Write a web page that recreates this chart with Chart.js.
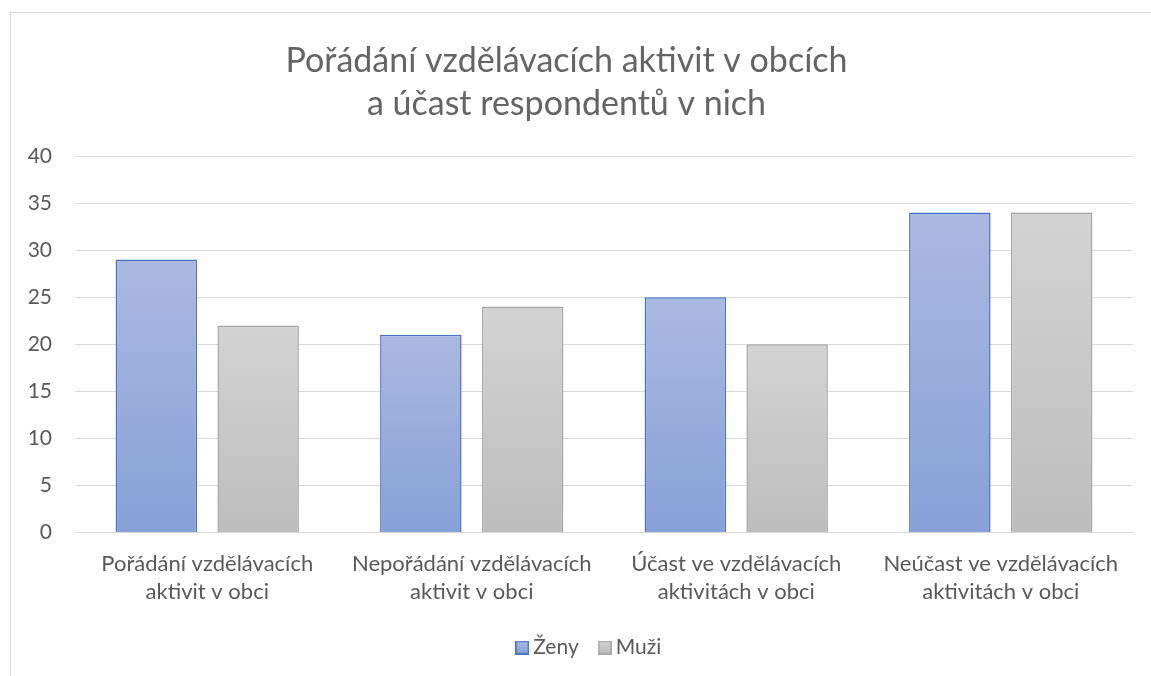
<!DOCTYPE html>
<html>
<head>
<meta charset="utf-8">
<script src="https://cdn.jsdelivr.net/npm/chart.js@4"></script>
<style>
  html, body { margin: 0; padding: 0; background: #fff; overflow: hidden; }
  #frame { position: absolute; left: 10px; top: 12px; width: 1200px; height: 700px; border: 1px solid #d9d9d9; box-sizing: border-box; }
  #c { position: absolute; left: 0; top: 0; }
</style>
</head>
<body>
<div id="frame"></div>
<canvas id="c" width="1151" height="676"></canvas>
<script>
const titleLines = ['Pořádání vzdělávacích aktivit v obcích', 'a účast respondentů v nich'];
const categories = [
  ['Pořádání vzdělávacích', 'aktivit v obci'],
  ['Nepořádání vzdělávacích', 'aktivit v obci'],
  ['Účast ve vzdělávacích', 'aktivitách v obci'],
  ['Neúčast ve vzdělávacích', 'aktivitách v obci']
];
const seriesNames = ['Ženy', 'Muži'];
const zenyValues = [29, 21, 25, 34];
const muziValues = [22, 24, 20, 34];
const yMin = 0, yMax = 40, yStep = 5;

const FONT = 'Lato';
const TEXT = '#595959';
const fills = [['#aab9e1', '#87a0d7'], ['#d3d3d3', '#bdbdbd']];
const borders = ['#4472c4', '#a5a5a5'];

function gradFill(i) {
  return function (ctx) {
    const chart = ctx.chart;
    const y = chart.scales && chart.scales.y;
    if (ctx.dataIndex === undefined || !chart.chartArea || !y) return fills[i][1];
    const v = ctx.dataset.data[ctx.dataIndex];
    const g = chart.ctx.createLinearGradient(0, y.getPixelForValue(v), 0, y.getPixelForValue(0));
    g.addColorStop(0, fills[i][0]);
    g.addColorStop(1, fills[i][1]);
    return g;
  };
}

function legendSwatch(i) {
  const c = document.createElement('canvas');
  c.width = 14; c.height = 14;
  const x = c.getContext('2d');
  const g = x.createLinearGradient(0, 0, 0, 14);
  g.addColorStop(0, fills[i][0]);
  g.addColorStop(1, fills[i][1]);
  x.fillStyle = g;
  x.fillRect(0, 0, 14, 14);
  x.strokeStyle = borders[i];
  x.lineWidth = 1.5;
  x.strokeRect(0.75, 0.75, 12.5, 12.5);
  return c;
}
const swatches = [legendSwatch(0), legendSwatch(1)];

const legendShift = {
  id: 'legendShift',
  afterLayout(chart) {
    if (chart.legend) { chart.legend.left += 50; }
  }
};

new Chart(document.getElementById('c'), {
  type: 'bar',
  data: {
    labels: categories,
    datasets: [
      {
        label: seriesNames[0],
        data: zenyValues,
        backgroundColor: gradFill(0),
        borderColor: borders[0],
        borderWidth: 1.5,
        categoryPercentage: 0.77,
        barPercentage: 0.8
      },
      {
        label: seriesNames[1],
        data: muziValues,
        backgroundColor: gradFill(1),
        borderColor: borders[1],
        borderWidth: 1.5,
        categoryPercentage: 0.77,
        barPercentage: 0.8
      }
    ]
  },
  plugins: [legendShift],
  options: {
    responsive: false,
    animation: false,
    layout: { padding: { left: 0, right: 18, top: 0, bottom: 8 } },
    plugins: {
      tooltip: { enabled: false },
      title: {
        display: true,
        text: titleLines,
        color: '#646464',
        font: { family: FONT, size: 34, weight: 'normal', lineHeight: 1.265 },
        padding: { top: 40, bottom: 30 }
      },
      legend: {
        position: 'bottom',
        labels: {
          color: TEXT,
          font: { family: FONT, size: 21 },
          usePointStyle: true,
          pointStyleWidth: 1,
          boxHeight: 14,
          padding: 25.5,
          generateLabels: (chart) => chart.data.datasets.map((ds, i) => ({
            text: ds.label,
            fillStyle: fills[i][1],
            strokeStyle: borders[i],
            lineWidth: 0,
            pointStyle: swatches[i],
            datasetIndex: i,
            hidden: false,
            fontColor: TEXT
          }))
        }
      }
    },
    scales: {
      x: {
        grid: { display: false, drawTicks: false },
        border: { display: true, color: '#d9d9d9', width: 1 },
        ticks: { color: TEXT, font: { family: FONT, size: 22, lineHeight: 1.27 }, padding: 17, maxRotation: 0, autoSkip: false },
        afterFit: (s) => { s.height = 79; }
      },
      y: {
        min: yMin, max: yMax,
        grid: { color: '#d9d9d9', lineWidth: 1, drawTicks: false },
        border: { display: false },
        ticks: { stepSize: yStep, color: TEXT, font: { family: FONT, size: 21 }, padding: 23 },
        afterFit: (s) => { s.width = 75; }
      }
    }
  }
});
</script>
</body>
</html>
